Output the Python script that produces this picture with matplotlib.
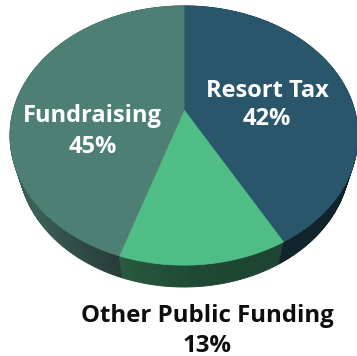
import numpy as np
import matplotlib
matplotlib.use("Agg")
import matplotlib.pyplot as plt
from matplotlib.patches import Polygon
from matplotlib.colors import to_rgb

# Funding sources, clockwise from 12 o'clock
labels = ["Resort Tax", "Other Public Funding", "Fundraising"]
shares = [42, 13, 45]

top_colors = ["#29566b", "#50bd87", "#4e7f74"]
# side-wall shading stops (fraction along the slice arc, colour)
side_stops = [
    [(0.0, "#10222b"), (1.0, "#10222b")],
    [(0.0, "#1d4331"), (0.55, "#1f4834"), (0.85, "#235339"), (1.0, "#295a40")],
    [(0.0, "#283c38"), (0.07, "#2e4843"), (0.2, "#3a6057"), (0.33, "#35584f"),
     (0.45, "#2c4741"), (1.0, "#2c4741")],
]
text_colors = ["white", "#0d0d0d", "white"]
# (x centre, name baseline, percent baseline, font size)
text_layout = [(267, 97, 125, 17), (207.5, 322, 351.5, 17.3), (92.5, 122, 153, 17)]

# camera / disc geometry (pixel space)
CX, CY = 184.0, 110.0
F = 592.0
DIST = 3.47
ELEV = np.deg2rad(46.9)
THICK = 0.222
sinE, cosE = np.sin(ELEV), np.cos(ELEV)


def project(theta_deg, r, z):
    t = np.deg2rad(theta_deg)
    x = r * np.sin(t)
    y = r * np.cos(t)
    w = DIST + y * cosE - z * sinE
    sx = CX + F * x / w
    sy = CY - F * (y * sinE + z * cosE) / w
    return sx, sy, w


def interp_color(stops, frac):
    fs = [s[0] for s in stops]
    cs = np.array([to_rgb(s[1]) for s in stops])
    return tuple(np.interp(frac, fs, cs[:, k]) for k in range(3))


fig = plt.figure(figsize=(3.57, 3.56), dpi=100)
ax = fig.add_axes([0, 0, 1, 1])
ax.set_xlim(0, 357)
ax.set_ylim(356, 0)
ax.axis("off")

total = float(sum(shares))
bounds = np.concatenate([[0.0], np.cumsum(shares) / total * 360.0])

# side walls, drawn far-to-near
strips = []
for i in range(len(shares)):
    a0, a1 = bounds[i], bounds[i + 1]
    n = max(int((a1 - a0) / 1.0), 2)
    th = np.linspace(a0, a1, n + 1)
    for j in range(n):
        t0, t1 = th[j], th[j + 1]
        x0, y0, w0 = project(t0, 1.0, 0.0)
        x1, y1, w1 = project(t1, 1.0, 0.0)
        x2, y2, _ = project(t1, 1.0, -THICK)
        x3, y3, _ = project(t0, 1.0, -THICK)
        frac = ((t0 + t1) / 2 - a0) / (a1 - a0)
        col = interp_color(side_stops[i], frac)
        strips.append(((w0 + w1) / 2, [(x0, y0), (x1, y1), (x2, y2), (x3, y3)], col))

strips.sort(key=lambda s: -s[0])
for _, pts, col in strips:
    ax.add_patch(Polygon(pts, closed=True, facecolor=col, edgecolor=col, lw=0.6))

# top faces
for i in range(len(shares)):
    a0, a1 = bounds[i], bounds[i + 1]
    th = np.linspace(a0, a1, 200)
    sx, sy, _ = project(th, 1.0, 0.0)
    px, py, _ = project(0.0, 0.0, 0.0)
    pts = [(px, py)] + list(zip(sx, sy))
    ax.add_patch(Polygon(pts, closed=True, facecolor=top_colors[i],
                         edgecolor=top_colors[i], lw=0.6))

# labels
for i, lab in enumerate(labels):
    x, yb1, yb2, fs = text_layout[i]
    kw = dict(ha="center", va="baseline", fontsize=fs, fontweight="bold",
              family=["Open Sans", "DejaVu Sans"], color=text_colors[i])
    ax.text(x, yb1, lab, **kw)
    ax.text(x, yb2, f"{shares[i]}%", **kw)

fig.savefig("out.png", dpi=100)
